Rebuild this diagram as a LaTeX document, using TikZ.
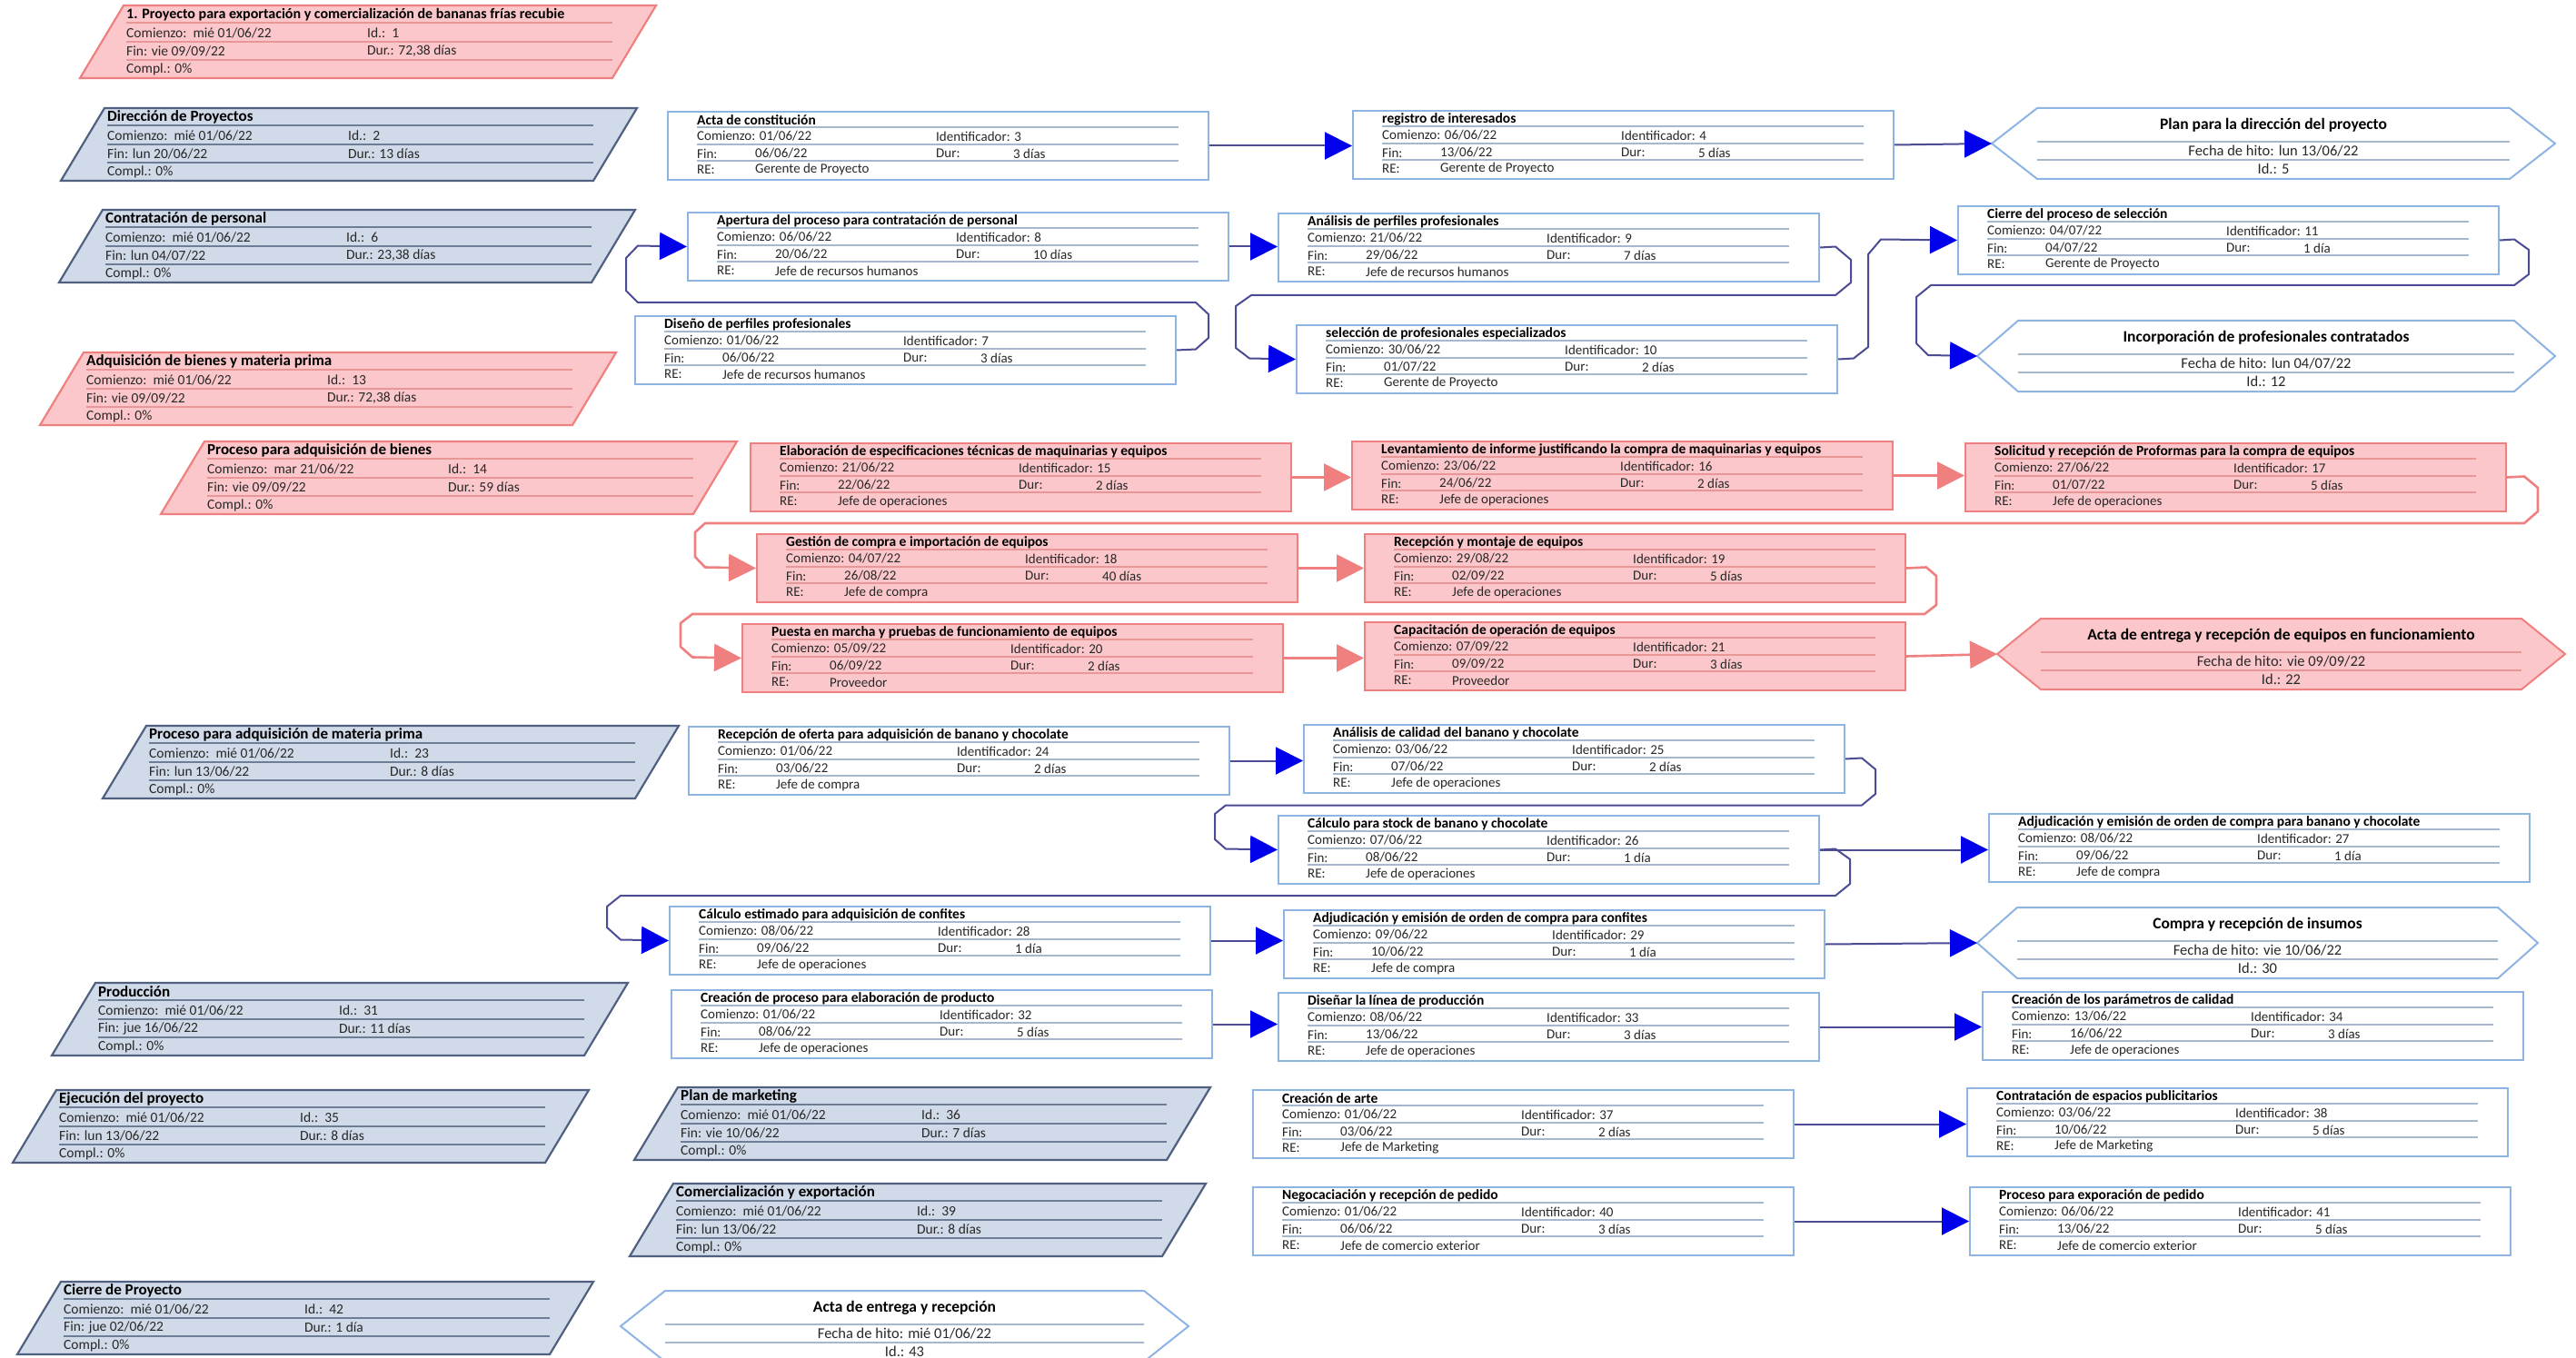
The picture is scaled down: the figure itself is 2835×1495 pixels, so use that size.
\documentclass[tikz,border=0pt]{standalone}
\usepackage{fontspec}
\setmainfont{Carlito}
\usetikzlibrary{arrows.meta}

\definecolor{taskedge}{RGB}{141,180,226}
\definecolor{tasksep}{RGB}{166,184,206}
\definecolor{redfill}{RGB}{252,199,202}
\definecolor{rededge}{RGB}{240,128,128}
\definecolor{redsepc}{RGB}{232,150,150}
\definecolor{sumfill}{RGB}{208,218,232}
\definecolor{sumedge}{RGB}{80,96,128}
\definecolor{sumsep}{RGB}{110,125,150}
\definecolor{bodytxt}{RGB}{40,40,40}
\definecolor{connline}{RGB}{75,75,150}
\definecolor{arrowblue}{RGB}{0,0,235}

\tikzset{
  ttext/.style={anchor=west, inner sep=0pt, text=bodytxt, font=\fontsize{15}{17}\selectfont},
  ttitle/.style={anchor=west, inner sep=0pt, text=black, font=\fontsize{15.5}{17}\selectfont\bfseries},
  stext/.style={anchor=west, inner sep=0pt, text=bodytxt, font=\fontsize{15.5}{18}\selectfont},
  stitle/.style={anchor=west, inner sep=0pt, text=black, font=\fontsize{17}{19}\selectfont\bfseries},
  mtext/.style={inner sep=0pt, text=bodytxt, font=\fontsize{16.5}{18}\selectfont},
  mtitle/.style={inner sep=0pt, text=black, font=\fontsize{17.5}{19}\selectfont\bfseries},
  bluebox/.style={draw=taskedge, fill=white, line width=2pt, minimum width=595pt, minimum height=75pt, inner sep=0pt},
  redbox/.style={draw=rededge, fill=redfill, line width=2pt, minimum width=595pt, minimum height=75pt, inner sep=0pt},
  bluesep/.style={draw=tasksep, line width=1.2pt},
  redsep/.style={draw=redsepc, line width=1.2pt},
  bluesum/.style={draw=sumedge, fill=sumfill, line width=2.2pt, line join=miter},
  redsum/.style={draw=rededge, fill=redfill, line width=2.2pt, line join=miter},
  bluessep/.style={draw=sumsep, line width=1.2pt},
  redssep/.style={draw=redsepc, line width=1.2pt},
  bluems/.style={draw=taskedge, fill=white, line width=2pt},
  redms/.style={draw=rededge, fill=redfill, line width=2pt},
  conn/.style={draw=connline, line width=2pt, line join=round,
    -{Triangle[length=30pt,width=30pt,color=arrowblue]}},
  connred/.style={draw=rededge, line width=2.6pt, line join=round,
    -{Triangle[length=30pt,width=30pt,color=rededge]}},
}

% task box: name, top-left, title, start, id, finish, duration, resource, style
\newcommand\taskbox[9]{%
\begin{scope}[shift={(#2)}]
  \node[#9box, anchor=north west] (#1) at (0,0) {};
  \draw[#9sep] (33,18) -- (563,18) (33,37) -- (563,37) (33,55) -- (563,55);
  \node[ttitle] (#1-ti) at (33,10) {#3};
  \node[ttext] (#1-c) at (33,28) {Comienzo: #4};
  \node[ttext] (#1-id) at (296,28) {Identificador: #5};
  \node[ttext] (#1-f) at (33,47) {Fin:};
  \node[ttext] (#1-fv) at (97,47) {#6};
  \node[ttext] (#1-d) at (296,47) {Dur:};
  \node[ttext] (#1-dv) at (381,47) {#7};
  \node[ttext] (#1-r) at (33,65) {RE:};
  \node[ttext] (#1-rv) at (97,65) {#8};
\end{scope}}

% summary task: name, top-left, title, start, id, finish, duration, style
\newcommand\sumbox[8]{%
\begin{scope}[shift={(#2)}]
  \filldraw[#8sum] (0,0) -- (586,0) -- (538,80) -- (-48,80) -- cycle;
  \node[inner sep=0pt, minimum width=538pt, minimum height=80pt, anchor=north west] (#1) at (0,0) {};
  \draw[#8ssep] (3,19) -- (538,19) (3,40) -- (538,40) (3,60) -- (538,60);
  \node[stitle] (#1-ti) at (3,10) {#3};
  \node[stext] (#1-c) at (3,30) {Comienzo:\ \ #4};
  \node[stext] (#1-id) at (268,30) {Id.:\ \ #5};
  \node[stext] (#1-f) at (3,50) {Fin: #6};
  \node[stext] (#1-d) at (268,50) {Dur.: #7};
  \node[stext] (#1-p) at (3,70) {Compl.: 0\%};
\end{scope}}

% milestone: name, left tip x, top y, point inset, body width, title, date, id, style
\newcommand\milestone[9]{%
\begin{scope}[shift={(#2,#3)}]
  \filldraw[#9ms] (0,39) -- (#4,0) -- ({#4+#5},0) -- ({2*#4+#5},39) -- ({#4+#5},78) -- (#4,78) -- cycle;
  \coordinate (#1) at (0,39);
  \draw[#9sep] (#4,37) -- ++(#5,0) (#4,57) -- ++(#5,0);
  \node[mtitle] (#1-ti) at ({#4+#5/2},19) {#6};
  \node[mtext] (#1-f) at ({#4+#5/2},47) {#7};
  \node[mtext] (#1-i) at ({#4+#5/2},67) {#8};
\end{scope}}

\begin{document}
\begin{tikzpicture}[x=1pt,y=-1pt]
\useasboundingbox (0,0) rectangle (2835,1495);
\fill[white] (0,0) rectangle (2835,1495);

% summary tasks
\sumbox{s1}{136,6}{\fontsize{16}{18}\selectfont 1. Proyecto para exportación y comercialización de bananas frías recubie}{mié 01/06/22}{1}{vie 09/09/22}{72,38 días}{red}
\sumbox{s2}{115,119}{Dirección de Proyectos}{mié 01/06/22}{2}{lun 20/06/22}{13 días}{blue}
\sumbox{s6}{113,231}{Contratación de personal}{mié 01/06/22}{6}{lun 04/07/22}{23,38 días}{blue}
\sumbox{s13}{92,388}{Adquisición de bienes y materia prima}{mié 01/06/22}{13}{vie 09/09/22}{72,38 días}{red}
\sumbox{s14}{225,486}{Proceso para adquisición de bienes}{mar 21/06/22}{14}{vie 09/09/22}{59 días}{red}
\sumbox{s23}{161,799}{Proceso para adquisición de materia prima}{mié 01/06/22}{23}{lun 13/06/22}{8 días}{blue}
\sumbox{s31}{105,1082}{Producción}{mié 01/06/22}{31}{jue 16/06/22}{11 días}{blue}
\sumbox{s35}{62,1200}{Ejecución del proyecto}{mié 01/06/22}{35}{lun 13/06/22}{8 días}{blue}
\sumbox{s36}{746,1197}{Plan de marketing}{mié 01/06/22}{36}{vie 10/06/22}{7 días}{blue}
\sumbox{s39}{741,1303}{Comercialización y exportación}{mié 01/06/22}{39}{lun 13/06/22}{8 días}{blue}
\sumbox{s42}{67,1411}{Cierre de Proyecto}{mié 01/06/22}{42}{jue 02/06/22}{1 día}{blue}

% project management and hiring
\taskbox{t3}{734,122}{Acta de constitución}{01/06/22}{3}{06/06/22}{3 días}{Gerente de Proyecto}{blue}
\taskbox{t4}{1488,121}{registro de interesados}{06/06/22}{4}{13/06/22}{5 días}{Gerente de Proyecto}{blue}
\milestone{m5}{2192}{119}{50}{520}{Plan para la dirección del proyecto}{Fecha de hito: lun 13/06/22}{Id.: 5}{blue}
\taskbox{t8}{756,233}{Apertura del proceso para contratación de personal}{06/06/22}{8}{20/06/22}{10 días}{Jefe de recursos humanos}{blue}
\taskbox{t9}{1406,234}{Análisis de perfiles profesionales}{21/06/22}{9}{29/06/22}{7 días}{Jefe de recursos humanos}{blue}
\taskbox{t11}{2154,226}{Cierre del proceso de selección}{04/07/22}{11}{04/07/22}{1 día}{Gerente de Proyecto}{blue}
\taskbox{t7}{698,347}{Diseño de perfiles profesionales}{01/06/22}{7}{06/06/22}{3 días}{Jefe de recursos humanos}{blue}
\taskbox{t10}{1426,357}{selección de profesionales especializados}{30/06/22}{10}{01/07/22}{2 días}{Gerente de Proyecto}{blue}
\milestone{m12}{2176}{353}{45}{546}{Incorporación de profesionales contratados}{Fecha de hito: lun 04/07/22}{Id.: 12}{blue}

% equipment purchase
\taskbox{t15}{825,487}{Elaboración de especificaciones técnicas de maquinarias y equipos}{21/06/22}{15}{22/06/22}{2 días}{Jefe de operaciones}{red}
\taskbox{t16}{1487,485}{Levantamiento de informe justificando la compra de maquinarias y equipos}{23/06/22}{16}{24/06/22}{2 días}{Jefe de operaciones}{red}
\taskbox{t17}{2162,487}{Solicitud y recepción de Proformas para la compra de equipos}{27/06/22}{17}{01/07/22}{5 días}{Jefe de operaciones}{red}
\taskbox{t18}{832,587}{Gestión de compra e importación de equipos}{04/07/22}{18}{26/08/22}{40 días}{Jefe de compra}{red}
\taskbox{t19}{1501,587}{Recepción y montaje de equipos}{29/08/22}{19}{02/09/22}{5 días}{Jefe de operaciones}{red}
\taskbox{t20}{816,686}{Puesta en marcha y pruebas de funcionamiento de equipos}{05/09/22}{20}{06/09/22}{2 días}{Proveedor}{red}
\taskbox{t21}{1501,684}{Capacitación de operación de equipos}{07/09/22}{21}{09/09/22}{3 días}{Proveedor}{red}
\milestone{m22}{2198}{681}{48}{529}{Acta de entrega y recepción de equipos en funcionamiento}{Fecha de hito: vie 09/09/22}{Id.: 22}{red}

% raw material purchase
\taskbox{t24}{757,799}{Recepción de oferta para adquisición de banano y chocolate}{01/06/22}{24}{03/06/22}{2 días}{Jefe de compra}{blue}
\taskbox{t25}{1434,797}{Análisis de calidad del banano y chocolate}{03/06/22}{25}{07/06/22}{2 días}{Jefe de operaciones}{blue}
\taskbox{t26}{1406,897}{Cálculo para stock de banano y chocolate}{07/06/22}{26}{08/06/22}{1 día}{Jefe de operaciones}{blue}
\taskbox{t27}{2188,895}{Adjudicación y emisión de orden de compra para banano y chocolate}{08/06/22}{27}{09/06/22}{1 día}{Jefe de compra}{blue}
\taskbox{t28}{736,997}{Cálculo estimado para adquisición de confites}{08/06/22}{28}{09/06/22}{1 día}{Jefe de operaciones}{blue}
\taskbox{t29}{1412,1001}{Adjudicación y emisión de orden de compra para confites}{09/06/22}{29}{10/06/22}{1 día}{Jefe de compra}{blue}
\milestone{m30}{2176}{999}{44}{529}{Compra y recepción de insumos}{Fecha de hito: vie 10/06/22}{Id.: 30}{blue}

% production
\taskbox{t32}{738,1089}{Creación de proceso para elaboración de producto}{01/06/22}{32}{08/06/22}{5 días}{Jefe de operaciones}{blue}
\taskbox{t33}{1406,1092}{Diseñar la línea de producción}{08/06/22}{33}{13/06/22}{3 días}{Jefe de operaciones}{blue}
\taskbox{t34}{2181,1091}{Creación de los parámetros de calidad}{13/06/22}{34}{16/06/22}{3 días}{Jefe de operaciones}{blue}

% marketing and export
\taskbox{t37}{1378,1199}{Creación de arte}{01/06/22}{37}{03/06/22}{2 días}{Jefe de Marketing}{blue}
\taskbox{t38}{2164,1197}{Contratación de espacios publicitarios}{03/06/22}{38}{10/06/22}{5 días}{Jefe de Marketing}{blue}
\taskbox{t40}{1378,1306}{Negocaciación y recepción de pedido}{01/06/22}{40}{06/06/22}{3 días}{Jefe de comercio exterior}{blue}
\taskbox{t41}{2167,1306}{Proceso para exporación de pedido}{06/06/22}{41}{13/06/22}{5 días}{Jefe de comercio exterior}{blue}

% closing
\milestone{m43}{683}{1421}{49}{527}{Acta de entrega y recepción}{Fecha de hito: mié 01/06/22}{Id.: 43}{blue}

% dependencies
\draw[conn] (t3.east) -- (t3.east -| t4.west);
\draw[conn] (t4.east) -- (m5);
\draw[conn] (t7.east) -- (1316,384.5) -- (1330,372) -- (1330,346) -- (1316,333)
  -- (702,333) -- (689,320) -- (689,284) -- (702,270.5) -- (t8.west);
\draw[conn] (t8.east) -- (t8.east -| t9.west);
\draw[conn] (t9.east) -- (2020,271.5) -- (2037,286) -- (2037,311) -- (2020,325)
  -- (1377,325) -- (1360,337) -- (1360,383) -- (1375,394.5) -- (t10.west);
\draw[conn] (t10.east) -- (2040,394.5) -- (2056,382) -- (2056,280) -- (2070,263.5) -- (t11.west);
\draw[conn] (t11.east) -- (2767,263.5) -- (2783,275) -- (2783,302) -- (2767,314)
  -- (2125,314) -- (2109,327) -- (2109,378) -- (2122,391) -- (m12);

\draw[connred] (t15.east) -- (t15.east -| t16.west);
\draw[connred] (t16.east) -- (t16.east -| t17.west);
\draw[connred] (t17.east) -- (2778,524.5) -- (2793,537) -- (2793,563) -- (2778,576)
  -- (776,576) -- (765,586) -- (765,613) -- (776,624.5) -- (t18.west);
\draw[connred] (t18.east) -- (t19.west);
\draw[connred] (t19.east) -- (2120,624.5) -- (2131,634) -- (2131,666) -- (2118,676)
  -- (762,676) -- (749,686) -- (749,712) -- (762,723.5) -- (t20.west);
\draw[connred] (t20.east) -- (t20.east -| t21.west);
\draw[connred] (t21.east) -- (m22);

\draw[conn] (t24.east) -- (t24.east -| t25.west);
\draw[conn] (t25.east) -- (2049,834.5) -- (2064,847) -- (2064,874) -- (2049,886.5)
  -- (1349,886.5) -- (1337,896) -- (1337,924) -- (1349,934.5) -- (t26.west);
\draw[conn] (t26.east) -- (t26.east -| t27.west);
\draw[conn] (t26.east) -- (2020,934.5) -- (2036,946) -- (2036,973) -- (2020,986)
  -- (683,986) -- (668,998) -- (668,1021) -- (683,1034.5) -- (t28.west);
\draw[conn] (t28.east) -- (t28.east -| t29.west);
\draw[conn] (t29.east) -- (m30);
\draw[conn] (t32.east) -- (t32.east -| t33.west);
\draw[conn] (t33.east) -- (t33.east -| t34.west);
\draw[conn] (t37.east) -- (t37.east -| t38.west);
\draw[conn] (t40.east) -- (t41.west);
\end{tikzpicture}
\end{document}
